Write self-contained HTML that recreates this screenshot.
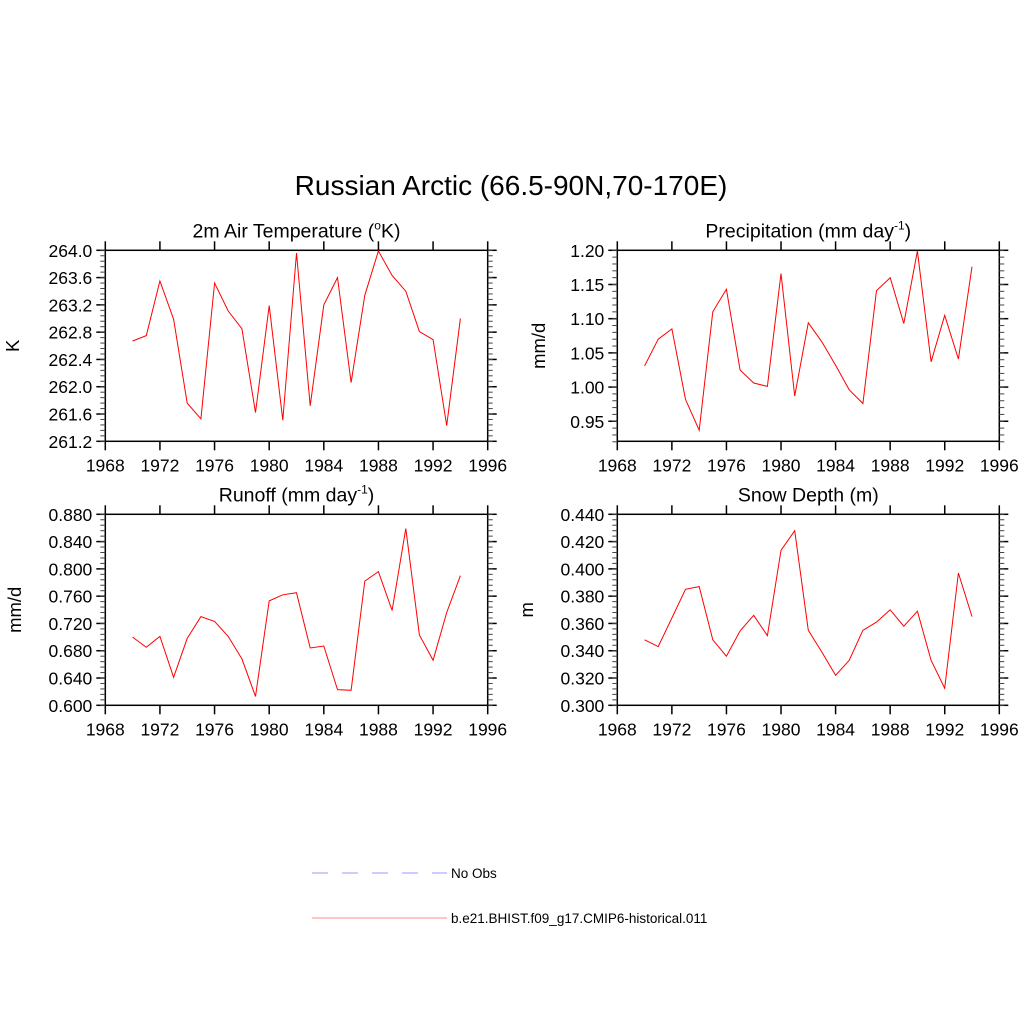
<!DOCTYPE html>
<html><head><meta charset="utf-8"><style>
body{margin:0;background:#fff;}
svg text{font-family:"Liberation Sans",sans-serif;fill:#000;}
</style></head><body>
<svg id="fig" width="1024" height="1024" xmlns="http://www.w3.org/2000/svg">
<text x="511" y="195" font-size="28" text-anchor="middle">Russian Arctic (66.5-90N,70-170E)</text>
<g id="plots"></g>
<g>
<line x1="312" y1="873" x2="447" y2="873" stroke="#9999ff" stroke-width="1" stroke-dasharray="16,14"/>
<text x="451" y="878" font-size="13.5">No Obs</text>
<line x1="312" y1="918" x2="447" y2="918" stroke="#ff8888" stroke-width="1"/>
<text x="451" y="923" font-size="13.5">b.e21.BHIST.f09_g17.CMIP6-historical.011</text>
</g>
</svg>
<script>
const years = [1970,1971,1972,1973,1974,1975,1976,1977,1978,1979,1980,1981,1982,1983,1984,1985,1986,1987,1988,1989,1990,1991,1992,1993,1994];
const xTicks = [1968,1972,1976,1980,1984,1988,1992,1996];
const tempVals = [262.67,262.75,263.55,262.99,261.76,261.53,263.52,263.11,262.85,261.62,263.19,261.51,263.96,261.72,263.20,263.60,262.06,263.34,263.99,263.63,263.40,262.81,262.69,261.43,263.00];
const precVals = [1.031,1.070,1.085,0.982,0.937,1.110,1.143,1.025,1.006,1.001,1.166,0.987,1.094,1.066,1.032,0.996,0.976,1.141,1.160,1.093,1.199,1.037,1.105,1.041,1.176];
const runoffVals = [0.700,0.685,0.701,0.641,0.698,0.730,0.723,0.701,0.668,0.613,0.753,0.762,0.765,0.684,0.687,0.623,0.622,0.782,0.796,0.739,0.859,0.703,0.666,0.736,0.790];
const snowVals = [0.348,0.343,0.364,0.385,0.387,0.348,0.336,0.3545,0.366,0.351,0.4136,0.428,0.355,0.339,0.322,0.333,0.355,0.361,0.370,0.358,0.369,0.333,0.3125,0.397,0.365];
const tempTicks = [261.2,261.6,262.0,262.4,262.8,263.2,263.6,264.0];
const precTicks = [0.95,1.00,1.05,1.10,1.15,1.20];
const runoffTicks = [0.600,0.640,0.680,0.720,0.760,0.800,0.840,0.880];
const snowTicks = [0.300,0.320,0.340,0.360,0.380,0.400,0.420,0.440];

const NS="http://www.w3.org/2000/svg";
const root=document.getElementById('plots');
function mk(tag,attrs,parent){const e=document.createElementNS(NS,tag);for(const k in attrs)e.setAttribute(k,attrs[k]);parent.appendChild(e);return e;}

function panel(key,L,R,T,B,ymin,ymax,vals,ticks,dec,title,titleSup,titleEnd,ylab,ylabX){
  const g=mk('g',{},root);
  
  
  const xs=v=>L+(v-1968)/28*(R-L);
  const ys=v=>B-(v-ymin)/(ymax-ymin)*(B-T);
  const box=mk('rect',{x:L,y:T,width:R-L,height:B-T,fill:'none',stroke:'#000','stroke-width':1.5},g);
  
  
  xTicks.forEach(t=>{
    const x=xs(t);
    mk('line',{x1:x,y1:B,x2:x,y2:B+9,stroke:'#000','stroke-width':1.5},g);
    mk('line',{x1:x,y1:T,x2:x,y2:T-9,stroke:'#000','stroke-width':1.5},g);
    const tx=mk('text',{x:x,y:B+30,'font-size':17.5,'text-anchor':'middle'},g);
    tx.textContent=t;
    
    
  });
  const step=ticks[1]-ticks[0];
  for(let i=0;i<ticks.length;i++){
    const y=ys(ticks[i]);
    if(y<T-0.5||y>B+0.5) continue;
    mk('line',{x1:L,y1:y,x2:L-9,y2:y,stroke:'#000','stroke-width':1.5},g);
    mk('line',{x1:R,y1:y,x2:R+9,y2:y,stroke:'#000','stroke-width':1.5},g);
    const tx=mk('text',{x:L-13,y:y+6.5,'font-size':17.5,'text-anchor':'end'},g);
    tx.textContent=ticks[i].toFixed(dec);
    
    
  }
  for(let v=ticks[0]-step;v<=ticks[ticks.length-1]+1e-9;v+=step/5){
    const y=ys(v);
    if(y<T-0.5||y>B+0.5) continue;
    mk('line',{x1:L,y1:y,x2:L-5,y2:y,stroke:'#444','stroke-width':1},g);
    mk('line',{x1:R,y1:y,x2:R+5,y2:y,stroke:'#444','stroke-width':1},g);
  }
  const pts=years.map((yr,i)=>xs(yr).toFixed(1)+','+ys(vals[i]).toFixed(1)).join(' ');
  const line=mk('polyline',{points:pts,fill:'none',stroke:'#ff0000','stroke-width':1},g);
  
  
  const tt=mk('text',{x:(L+R)/2,y:T-13,'font-size':19.5,'text-anchor':'middle'},g);
  
  
  tt.appendChild(document.createTextNode(title));
  const sup=mk('tspan',{dy:-8,'font-size':12},tt);sup.textContent=titleSup;
  const end=mk('tspan',{dy:8},tt);end.textContent=titleEnd;
  const yl=mk('text',{x:ylabX,y:(T+B)/2,'font-size':18.5,'text-anchor':'middle',transform:`rotate(-90 ${ylabX} ${(T+B)/2})`},g);
  yl.textContent=ylab;
  
  
}
panel('temperature',105.3,487.7,250.3,441.3,261.2,264.0,tempVals,tempTicks,1,'2m Air Temperature (','o','K)','K',19);
panel('precipitation',617.3,999.3,250.3,441.3,0.9207,1.20,precVals,precTicks,2,'Precipitation (mm day','-1',')','mm/d',545);
panel('runoff',105.3,487.7,514.3,705.3,0.600,0.880,runoffVals,runoffTicks,3,'Runoff (mm day','-1',')','mm/d',21);
panel('snow-depth',617.3,999.3,514.3,705.3,0.300,0.440,snowVals,snowTicks,3,'Snow Depth (m)','','','m',533);
</script>
</body></html>
